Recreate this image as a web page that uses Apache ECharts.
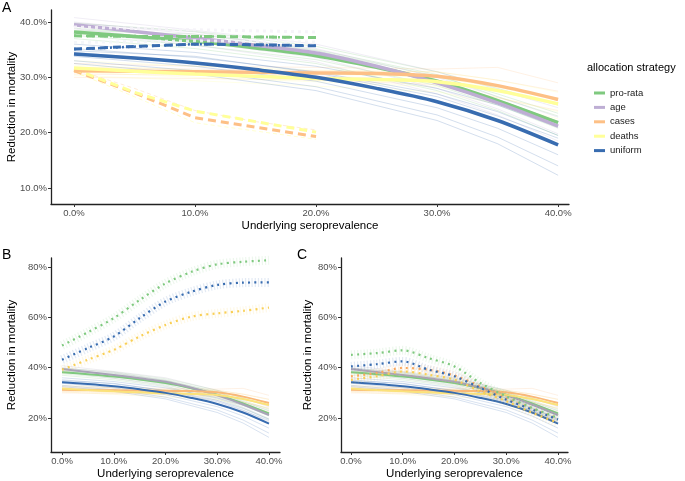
<!DOCTYPE html>
<html><head><meta charset="utf-8">
<script src="https://cdn.jsdelivr.net/npm/echarts@6/dist/echarts.min.js"></script>
<style>html,body{margin:0;padding:0;background:#fff}#c{width:685px;height:481px}</style>
</head><body><div id="c"></div>
<script>
// ---------- DATA ----------
const strategies = ['pro-rata', 'age', 'cases', 'deaths', 'uniform'];
const colors = ['#7FC97F', '#BEAED4', '#FDC086', '#FFFF99', '#386CB0'];
const xTicks = [0, 10, 20, 30, 40];

// smoothed mean curves (solid)
const xMean = [0, 5, 10, 15, 20, 25, 30, 35, 40];
const meanProRata = [38.2, 37.4, 36.5, 35.3, 33.9, 31.8, 29.3, 25.8, 21.8];
const meanAge     = [39.5, 38.3, 37.1, 35.8, 34.4, 32.0, 29.0, 25.4, 21.2];
const meanCases   = [31.2, 31.1, 31.0, 30.9, 30.8, 30.7, 30.2, 28.5, 26.0];
const meanDeaths  = [31.7, 31.1, 30.6, 30.2, 29.8, 29.6, 29.2, 27.6, 25.2];
const meanUniform = [34.2, 33.5, 32.6, 31.4, 30.0, 28.0, 25.6, 22.2, 17.8];

// individual simulation runs (thin lines)
const xSim = [0, 10, 20, 30, 35, 40];
const simProRata = [
  [39.8, 38.3, 35.6, 31.0, 28.0, 25.0],
  [38.9, 37.3, 34.8, 30.2, 27.0, 23.5],
  [38.2, 36.6, 34.0, 29.4, 26.0, 22.0],
  [37.6, 35.8, 33.2, 28.5, 25.0, 20.8],
  [37.0, 35.2, 32.5, 27.6, 24.0, 19.5],
  [38.5, 37.8, 35.0, 30.5, 26.5, 23.0]
];
const simAge = [
  [40.8, 38.5, 36.0, 31.0, 27.8, 24.5],
  [40.0, 37.8, 35.2, 30.0, 26.5, 22.8],
  [39.4, 37.0, 34.3, 29.0, 25.4, 21.2],
  [38.8, 36.4, 33.6, 28.0, 24.3, 19.8],
  [38.2, 35.8, 32.8, 27.0, 23.2, 18.5],
  [39.8, 38.2, 34.8, 29.6, 26.0, 22.0]
];
const simCases = [
  [32.5, 32.0, 31.8, 31.5, 31.8, 29.0],
  [31.8, 31.5, 31.2, 31.0, 29.5, 27.5],
  [31.2, 31.0, 30.8, 30.3, 28.5, 26.2],
  [30.6, 30.4, 30.2, 29.5, 27.5, 25.0],
  [30.0, 29.8, 29.5, 28.7, 26.3, 24.0]
];
const simDeaths = [
  [33.0, 32.0, 31.3, 31.0, 29.5, 27.3],
  [32.2, 31.3, 30.6, 30.0, 28.2, 26.0],
  [31.6, 30.6, 29.9, 29.2, 27.5, 25.0],
  [31.0, 30.0, 29.2, 28.3, 26.4, 23.8],
  [30.4, 29.4, 28.4, 27.4, 25.2, 22.5]
];
const simUniform = [
  [36.0, 34.5, 32.0, 28.0, 25.0, 21.0],
  [35.2, 33.6, 31.0, 27.0, 23.8, 19.5],
  [34.5, 32.8, 30.2, 25.8, 22.3, 17.8],
  [33.8, 32.0, 29.3, 24.5, 20.8, 16.0],
  [33.0, 31.2, 28.3, 23.2, 19.2, 14.0],
  [32.5, 30.6, 27.6, 22.2, 18.0, 12.3],
  [34.8, 33.8, 30.8, 26.5, 23.0, 19.0]
];

// panel A dashed lines
const xDashA = [0, 5, 10, 15, 20];
const dashProRata = [37.5, 37.4, 37.4, 37.3, 37.2];
const dashUniform = [35.1, 35.6, 36.0, 35.9, 35.7];
const dashCases   = [31.2, 27.2, 22.7, 21.0, 19.3];
const dashDeaths  = [31.5, 27.3, 23.9, 22.0, 20.1];
const dashCasesFaint = [31.5, 28.0, 24.0, 22.0, 20.5];
const dashDeathsFaint = [31.0, 26.5, 21.8, 20.3, 18.8];

// panel B dotted lines
const xDot = [0, 5, 10, 15, 20, 25, 30, 35, 40];
const dotBProRata = [48.8, 54.1, 59.7, 66.9, 73.5, 78.1, 81.1, 82.1, 82.7];
const dotBUniform = [43.2, 47.8, 52.4, 59.7, 66.3, 70.2, 72.9, 73.8, 73.9];
const dotBDeaths  = [39.2, 43.2, 47.1, 52.4, 57.0, 60.3, 61.6, 62.6, 63.9];

// panel C dotted lines
const dotCProRata = [45.1, 45.8, 46.9, 43.8, 40.5, 33.9, 28.6, 24.0, 20.1];
const dotCUniform = [40.5, 41.4, 42.5, 39.2, 36.6, 32.0, 27.3, 23.4, 19.4];
const dotCCases   = [36.6, 37.9, 39.9, 39.2, 36.9, 32.6, 28.0, 23.8, 19.8];
const dotCDeaths  = [35.2, 36.6, 38.5, 37.2, 35.2, 30.6, 26.7, 22.1, 18.1];

// ---------- BUILD ----------
const FONT = 'Liberation Sans, Arial, Helvetica, sans-serif';
const pts = (xs, ys) => xs.map((x, i) => [x, ys[i]]);
const means = [meanProRata, meanAge, meanCases, meanDeaths, meanUniform];
const sims = [simProRata, simAge, simCases, simDeaths, simUniform];
const colB = ['#7FC97F', '#a9a3b8', '#F9B878', '#FBE27A', '#386CB0'];

function ln(name, g, xs, ys, color, width, type, opacity, z, smooth) {
  return {
    name: name, type: 'line', xAxisIndex: g, yAxisIndex: g,
    data: pts(xs, ys), showSymbol: false, symbol: 'none', silent: true,
    smooth: smooth || false, z: z, animation: false,
    lineStyle: { color: color, width: width, type: type || 'solid', opacity: opacity == null ? 1 : opacity, cap: 'butt' }
  };
}

const series = [];
// thin simulation lines in all panels
[0, 1, 2].forEach(g => {
  sims.forEach((set, si) => {
    const c = g === 0 ? colors[si] : colB[si];
    set.forEach(ys => series.push(ln(strategies[si] + ' run', g, xSim, ys, c, 0.9, 'solid', g === 0 ? 0.25 : 0.22, 1)));
  });
});
// panel A: faint dashed runs
series.push(ln('cases run d', 0, xDashA, dashCasesFaint, colors[2], 0.8, [4, 3], 0.4, 2));
series.push(ln('deaths run d', 0, xDashA, dashDeathsFaint, colors[3], 0.8, [4, 3], 0.6, 2));
// panel A dashed lines lying under the means
series.push(ln('cases dash', 0, xDashA, dashCases, colors[2], 3, [8, 5], 1, 2));
series.push(ln('deaths dash', 0, xDashA, dashDeaths, colors[3], 3, [8, 5], 1, 2));
// panel A mean lines (legend series)
means.forEach((ys, si) => series.push(ln(strategies[si], 0, xMean, ys, colors[si], 3.5, 'solid', 1, 3, 0.3)));
// panel A dotted + dashed
series.push(ln('pro-rata dot', 0, [0, 10, 20], [37.5, 37.4, 37.2], colors[0], 2.5, [2, 4], 1, 4));
series.push(ln('uniform dot', 0, [0, 10, 20], [35.1, 36.0, 35.7], colors[4], 2.5, [2, 4], 1, 4));
series.push(ln('white dot a', 0, [0, 10, 20], [39.1, 38.6, 38.2], '#f5f3f8', 3, [3, 4], 0.9, 4));
series.push(ln('white dot b', 0, [0, 10, 20], [36.3, 36.6, 36.4], '#f3f5f8', 3, [3, 4], 0.9, 4));
series.push(ln('pro-rata dash', 0, xDashA, dashProRata, colors[0], 3, [8, 5], 1, 5));
series.push(ln('uniform dash', 0, xDashA, dashUniform, colors[4], 3, [8, 5], 1, 5));
// panels B, C mean lines
[1, 2].forEach(g => means.forEach((ys, si) => series.push(ln(strategies[si] + ' m', g, xMean, ys, colB[si], 2, 'solid', 1, 3, 0.3))));
// dotted lines with bands
function dotted(g, ys, c) {
  series.push(ln('band', g, xDot, ys, c, 9, [1.2, 2], 0.14, 4, 0.3));
  series.push(ln('dot', g, xDot, ys, c, 2.2, [2, 4.2], 1, 5, 0.3));
}
dotted(1, dotBProRata, '#7FC97F');
dotted(1, dotBUniform, '#386CB0');
dotted(1, dotBDeaths, '#F9CF55');
dotted(2, dotCDeaths, '#F9CF55');
dotted(2, dotCCases, '#F9A85F');
dotted(2, dotCUniform, '#386CB0');
dotted(2, dotCProRata, '#7FC97F');

function xAx(g, min, max, gap) {
  return {
    type: 'value', gridIndex: g, min: min, max: max,
    axisLine: { show: true, onZero: false, lineStyle: { color: '#222', width: 1.3 } },
    axisTick: { show: true, customValues: xTicks, length: 3, lineStyle: { color: '#333' } },
    axisLabel: { customValues: xTicks, formatter: v => v.toFixed(1) + '%', color: '#4d4d4d', fontSize: 9.5, margin: 4, fontFamily: FONT },
    splitLine: { show: false },
    name: 'Underlying seroprevalence', nameLocation: 'middle', nameGap: gap, nameMoveOverlap: false,
    nameTextStyle: { fontSize: 11.5, color: '#000', fontFamily: FONT }
  };
}
function yAx(g, min, max, ticks, fmt, gap) {
  return {
    type: 'value', gridIndex: g, min: min, max: max,
    axisLine: { show: true, onZero: false, lineStyle: { color: '#222', width: 1.3 } },
    axisTick: { show: true, customValues: ticks, length: 3, lineStyle: { color: '#333' } },
    axisLabel: { customValues: ticks, formatter: fmt, color: '#4d4d4d', fontSize: 9.5, margin: 4, fontFamily: FONT },
    splitLine: { show: false },
    name: 'Reduction in mortality', nameLocation: 'middle', nameGap: gap, nameRotate: 90, nameMoveOverlap: false,
    nameTextStyle: { fontSize: 11.5, color: '#000', fontFamily: FONT }
  };
}

const option = {
  backgroundColor: '#fff',
  animation: false,
  textStyle: { fontFamily: FONT },
  grid: [
    { left: 51, top: 10, width: 518, height: 194, outerBoundsMode: 'none', containLabel: false },
    { left: 51, top: 258, width: 229, height: 194, outerBoundsMode: 'none', containLabel: false },
    { left: 341, top: 258, width: 227, height: 194, outerBoundsMode: 'none', containLabel: false }
  ],
  xAxis: [xAx(0, -1.9, 40.9, 16), xAx(1, -2.13, 42.13, 16), xAx(2, -1.93, 41.93, 16)],
  yAxis: [
    yAx(0, 7.11, 42.17, [10, 20, 30, 40], v => v.toFixed(1) + '%', 33),
    yAx(1, 6.5, 83.6, [20, 40, 60, 80], v => v.toFixed(0) + '%', 33),
    yAx(2, 6.5, 83.6, [20, 40, 60, 80], v => v.toFixed(0) + '%', 27)
  ],
  legend: {
    data: strategies.map((s, i) => ({ name: s, itemStyle: { color: colors[i] } })),
    orient: 'vertical', left: 589, top: 83, icon: 'rect',
    itemWidth: 11, itemHeight: 3, itemGap: 4.4,
    textStyle: { fontSize: 9.5, color: '#1a1a1a', lineHeight: 10, fontFamily: FONT },
    selectedMode: false
  },
  graphic: [
    { type: 'text', left: 587, top: 62, style: { text: 'allocation strategy', fontSize: 11, fill: '#000', fontFamily: FONT } },
    { type: 'text', left: 2, top: 1, style: { text: 'A', fontSize: 14, fill: '#000', fontFamily: FONT } },
    { type: 'text', left: 2, top: 248, style: { text: 'B', fontSize: 14, fill: '#000', fontFamily: FONT } },
    { type: 'text', left: 297, top: 248, style: { text: 'C', fontSize: 14, fill: '#000', fontFamily: FONT } }
  ],
  series: series
};
const chart = echarts.init(document.getElementById('c'), null, { renderer: 'canvas' });
chart.setOption(option);
</script></body></html>
